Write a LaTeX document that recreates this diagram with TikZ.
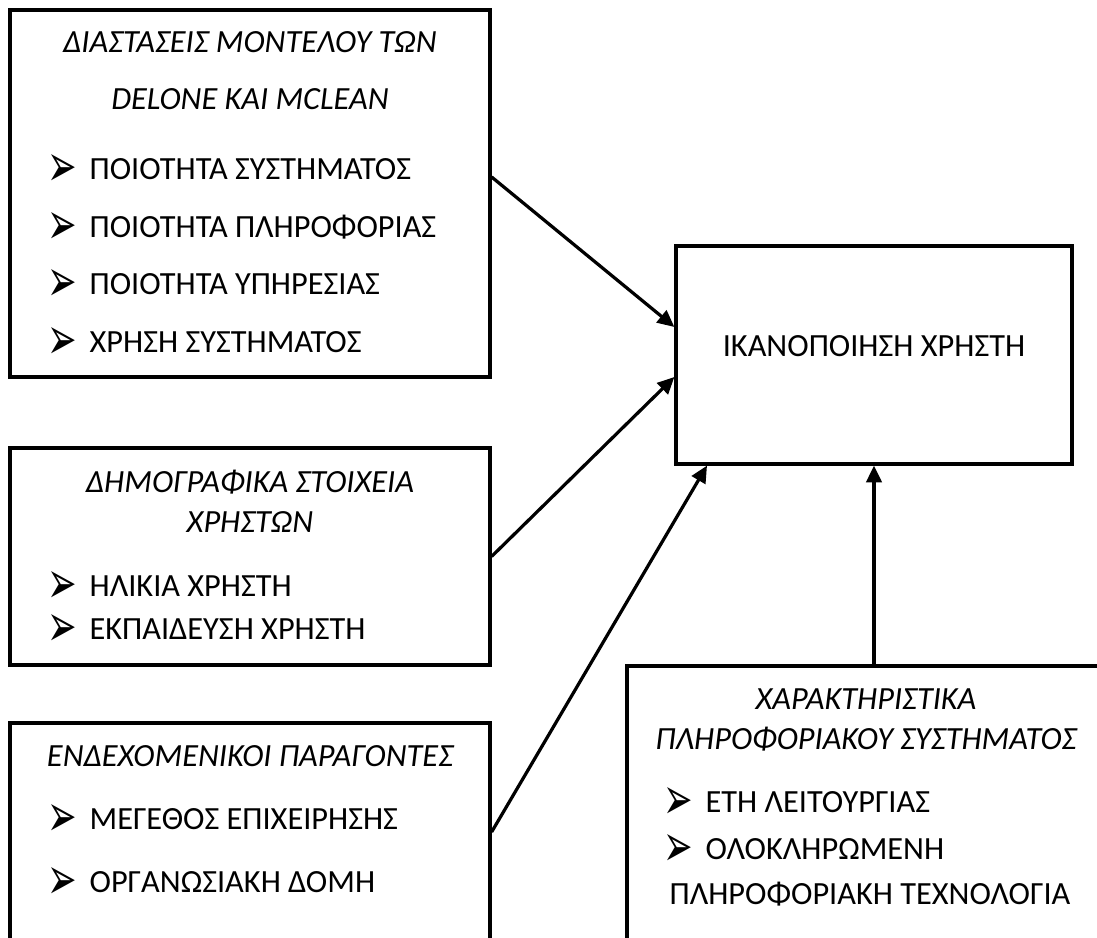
\documentclass[tikz,border=0pt]{standalone}
\usepackage{fontspec}
\usepackage{graphicx}
\setmainfont{Carlito}
\newfontfamily\dejavu{DejaVu Sans}
\usetikzlibrary{arrows.meta}
\newcommand{\bigtext}{\fontsize{23}{27}\selectfont}
\newcommand{\pointer}{\makebox[0.875cm][l]{\hspace*{-0.17cm}\smash{\raisebox{-0.16cm}{\resizebox{0.74cm}{0.8cm}{\dejavu ➢}}}}}
\tikzset{
  frame/.style={draw, line width=2.3pt, inner sep=0pt},
  head/.style={anchor=base, inner sep=0pt, font=\bigtext\itshape},
  entry/.style={anchor=base west, inner sep=0pt, font=\bigtext},
}
\begin{document}
\begin{tikzpicture}[>={Triangle[length=12pt,width=11pt]}, line width=2.3pt]
\useasboundingbox (0,0) rectangle (27.425,23.45);
\clip (0,0) rectangle (27.425,23.45);
% boxes
\node[frame, minimum width=12cm, minimum height=9.175cm] (model) at (6.25,18.6125) {};
\node[frame, minimum width=12cm, minimum height=5.425cm] (demog) at (6.25,9.5375) {};
\node[frame, minimum width=12cm, minimum height=6.375cm] (conting) at (6.25,2.1875) {};
\node[frame, minimum width=9.9cm, minimum height=5.45cm] (satisf) at (21.85,14.575) {};
\node[frame, minimum width=12.825cm, minimum height=7.8cm] (infosys) at (22.0875,2.9) {};
% texts
\node[head] (modelhead) at (6.25,22.125) {ΔΙΑΣΤΑΣΕΙΣ ΜΟΝΤΕΛΟΥ ΤΩΝ};
\node[head] (modelhead2) at (6.25,20.7) {DELONE ΚΑΙ MCLEAN};
\node[entry] (sysq) at (1.325,18.95) {\pointer ΠΟΙΟΤΗΤΑ ΣΥΣΤΗΜΑΤΟΣ};
\node[entry] (infq) at (1.325,17.5) {\pointer ΠΟΙΟΤΗΤΑ ΠΛΗΡΟΦΟΡΙΑΣ};
\node[entry] (serq) at (1.325,16.075) {\pointer ΠΟΙΟΤΗΤΑ ΥΠΗΡΕΣΙΑΣ};
\node[entry] (sysuse) at (1.325,14.625) {\pointer ΧΡΗΣΗ ΣΥΣΤΗΜΑΤΟΣ};
\node[head] (demoghead) at (6.25,11.125) {ΔΗΜΟΓΡΑΦΙΚΑ ΣΤΟΙΧΕΙΑ};
\node[head] (demoghead2) at (6.25,10.125) {ΧΡΗΣΤΩΝ};
\node[entry] (age) at (1.325,8.525) {\pointer ΗΛΙΚΙΑ ΧΡΗΣΤΗ};
\node[entry] (edu) at (1.325,7.45) {\pointer ΕΚΠΑΙΔΕΥΣΗ ΧΡΗΣΤΗ};
\node[head] (continghead) at (6.25,4.275) {ΕΝΔΕΧΟΜΕΝΙΚΟΙ ΠΑΡΑΓΟΝΤΕΣ};
\node[entry] (size) at (1.325,2.7) {\pointer ΜΕΓΕΘΟΣ ΕΠΙΧΕΙΡΗΣΗΣ};
\node[entry] (struct) at (1.325,1.125) {\pointer ΟΡΓΑΝΩΣΙΑΚΗ ΔΟΜΗ};
\node[entry, anchor=base] (satlabel) at ([yshift=-0.05cm]satisf.center) {ΙΚΑΝΟΠΟΙΗΣΗ ΧΡΗΣΤΗ};
\node[head] (infohead) at (21.65,5.7) {ΧΑΡΑΚΤΗΡΙΣΤΙΚΑ};
\node[head] (infohead2) at (21.65,4.7) {ΠΛΗΡΟΦΟΡΙΑΚΟΥ ΣΥΣΤΗΜΑΤΟΣ};
\node[entry] (years) at (16.725,3.125) {\pointer ΕΤΗ ΛΕΙΤΟΥΡΓΙΑΣ};
\node[entry] (integ) at (16.725,1.95) {\pointer ΟΛΟΚΛΗΡΩΜΕΝΗ};
\node[entry] (integ2) at (16.7,0.825) {ΠΛΗΡΟΦΟΡΙΑΚΗ ΤΕΧΝΟΛΟΓΙΑ};
% arrows
\draw[->] ([yshift=0.4125cm]model.east) -- ([yshift=0.7cm]satisf.west);
\draw[->] (demog.east) -- ([yshift=-0.55cm]satisf.west);
\draw[->] ([yshift=0.4625cm]conting.east) -- ([xshift=-4.175cm]satisf.south);
\draw[->] (infosys.north -| satisf.south) -- (satisf.south);
\end{tikzpicture}
\end{document}
